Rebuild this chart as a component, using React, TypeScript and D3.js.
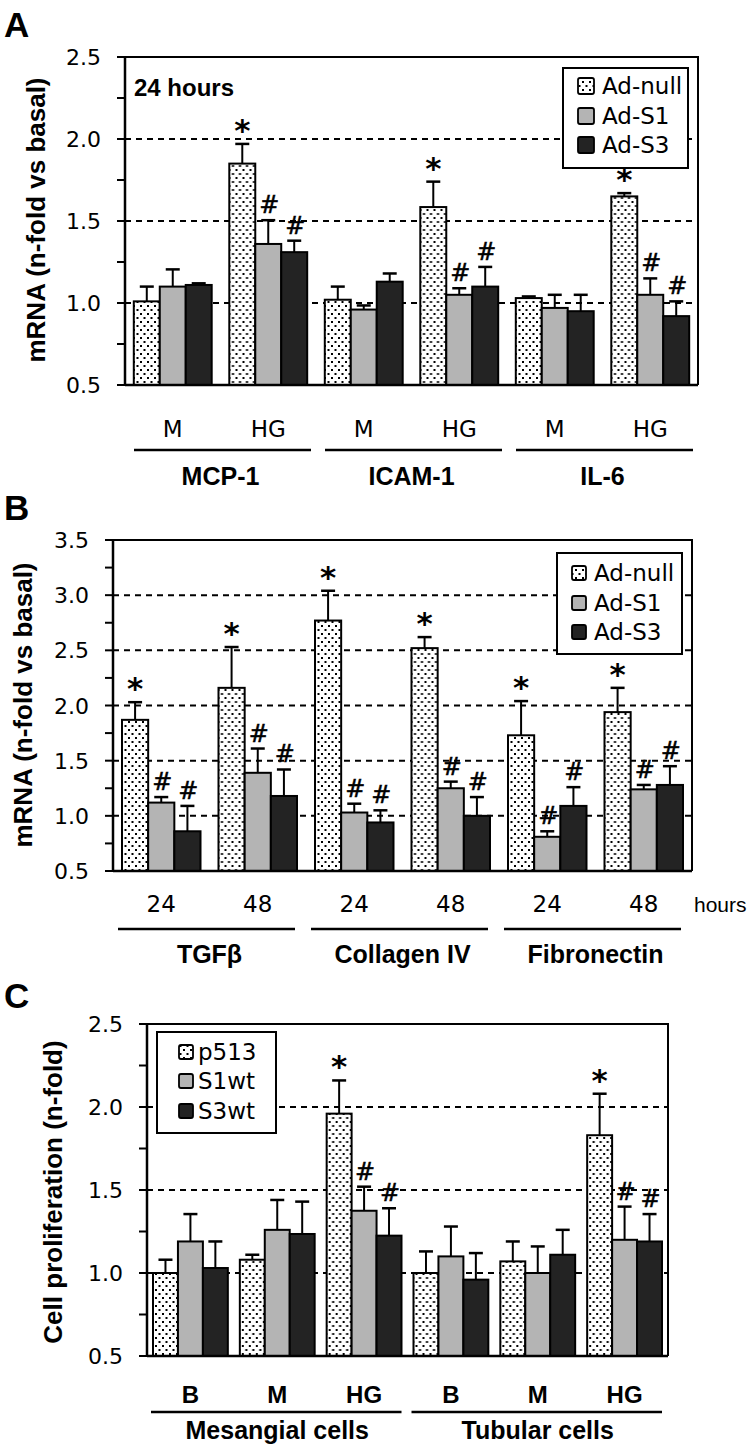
import React from "react";
import * as d3 from "d3";

// ---------- Panel A data ----------
const seriesA = ["Ad-null", "Ad-S1", "Ad-S3"];
const conditionsA = ["M", "HG", "M", "HG", "M", "HG"];
const genesA = ["MCP-1", "ICAM-1", "IL-6"];
const aNull = [1.01, 1.85, 1.02, 1.585, 1.03, 1.65];
const aNullErr = [0.09, 0.12, 0.08, 0.155, 0.01, 0.02];
const aS1 = [1.1, 1.36, 0.96, 1.05, 0.97, 1.05];
const aS1Err = [0.105, 0.145, 0.025, 0.04, 0.08, 0.1];
const aS3 = [1.11, 1.31, 1.13, 1.1, 0.95, 0.92];
const aS3Err = [0.01, 0.07, 0.05, 0.12, 0.1, 0.09];
const aNullSig = ["", "*", "", "*", "", "*"];
const aS1Sig = ["", "#", "", "#", "", "#"];
const aS3Sig = ["", "#", "", "#", "", "#"];
const yTicksA = [0.5, 1.0, 1.5, 2.0, 2.5];

// ---------- Panel B data ----------
const seriesB = ["Ad-null", "Ad-S1", "Ad-S3"];
const hoursB = ["24", "48", "24", "48", "24", "48"];
const markersB = ["TGFβ", "Collagen IV", "Fibronectin"];
const bNull = [1.87, 2.16, 2.77, 2.52, 1.73, 1.94];
const bNullErr = [0.16, 0.37, 0.27, 0.1, 0.31, 0.22];
const bS1 = [1.12, 1.39, 1.03, 1.25, 0.81, 1.24];
const bS1Err = [0.05, 0.22, 0.08, 0.06, 0.05, 0.04];
const bS3 = [0.86, 1.18, 0.94, 1.0, 1.09, 1.28];
const bS3Err = [0.23, 0.24, 0.11, 0.17, 0.17, 0.17];
const bNullSig = ["*", "*", "*", "*", "*", "*"];
const bS1Sig = ["#", "#", "#", "#", "#", "#"];
const bS3Sig = ["#", "#", "#", "#", "#", "#"];
const yTicksB = [0.5, 1.0, 1.5, 2.0, 2.5, 3.0, 3.5];

// ---------- Panel C data ----------
const seriesC = ["p513", "S1wt", "S3wt"];
const conditionsC = ["B", "M", "HG", "B", "M", "HG"];
const cellsC = ["Mesangial cells", "Tubular cells"];
const cNull = [1.0, 1.08, 1.96, 1.0, 1.07, 1.83];
const cNullErr = [0.08, 0.03, 0.2, 0.13, 0.12, 0.25];
const cS1 = [1.19, 1.26, 1.375, 1.1, 1.0, 1.2];
const cS1Err = [0.165, 0.18, 0.145, 0.18, 0.16, 0.2];
const cS3 = [1.03, 1.235, 1.225, 0.96, 1.11, 1.19];
const cS3Err = [0.16, 0.195, 0.165, 0.16, 0.15, 0.165];
const cNullSig = ["", "", "*", "", "", "*"];
const cS1Sig = ["", "", "#", "", "", "#"];
const cS3Sig = ["", "", "#", "", "", "#"];
const yTicksC = [0.5, 1.0, 1.5, 2.0, 2.5];

const FILLS = ["url(#dots)", "#b4b4b4", "#232323"];
const BOLD = "'Liberation Sans', Arial, sans-serif";
const REG = "'DejaVu Sans', sans-serif";
const ARIAL = "'Liberation Sans', Arial, sans-serif";

type PanelProps = {
  letter: string;
  letterY: number;
  left: number;
  right: number;
  top: number;
  bottom: number;
  yTicks: number[];
  yTitle: string;
  yTitleX: number;
  yTitleY: number;
  cats: string[];
  catBold: boolean;
  catY: number;
  supers: string[];
  lineY: number;
  lineInsetL: number;
  lineInsetR: number;
  superY: number;
  inset: number;
  values: number[][];
  errs: number[][];
  sigs: string[][];
  series: string[];
  legend: { x: number; y: number; w: number; h: number; sw: number; swX: number; textX: number; rows: number[] };
  extra?: React.ReactNode;
};

function Panel(p: PanelProps) {
  const yMin = p.yTicks[0];
  const yMax = p.yTicks[p.yTicks.length - 1];
  const y = d3.scaleLinear().domain([yMin, yMax]).range([p.bottom, p.top]);
  const x0 = d3.scaleBand<number>().domain(d3.range(p.cats.length)).range([p.left, p.right]);
  const x1 = d3
    .scaleBand<number>()
    .domain([0, 1, 2])
    .range([p.inset, x0.bandwidth() - p.inset]);
  const minor = d3.range(yMin, yMax + 1e-6, 0.25);
  const span = p.cats.length / p.supers.length;

  return (
    <g>
      <text x={4} y={p.letterY} fontFamily={BOLD} fontWeight="bold" fontSize={35}>
        {p.letter}
      </text>
      {/* gridlines */}
      {p.yTicks.slice(1, -1).map((t) => (
        <line
          key={"g" + t}
          x1={p.left}
          x2={p.right}
          y1={y(t)}
          y2={y(t)}
          stroke="#000"
          strokeWidth={2}
          strokeDasharray="6,5"
        />
      ))}
      {/* bars */}
      {p.cats.map((c, gi) => (
        <g key={"grp" + gi} transform={`translate(${x0(gi)},0)`}>
          {p.values.map((vals, si) => {
            const v = vals[gi];
            const e = p.errs[si][gi];
            const bx = x1(si)!;
            const bw = x1.bandwidth();
            const cx = bx + bw / 2;
            const yt = y(v);
            const ye = y(v + e);
            const sig = p.sigs[si][gi];
            return (
              <g key={"b" + si}>
                <line x1={cx} x2={cx} y1={yt} y2={ye} stroke="#000" strokeWidth={2} />
                <line x1={cx - 7} x2={cx + 7} y1={ye} y2={ye} stroke="#000" strokeWidth={2.5} />
                <rect
                  x={bx}
                  y={yt}
                  width={bw}
                  height={y(yMin) - yt}
                  fill={FILLS[si]}
                  stroke="#000"
                  strokeWidth={2}
                />
                {sig === "*" && (
                  <text x={cx} y={ye - 3} textAnchor="middle" fontFamily={REG} fontWeight="bold" fontSize={31}>
                    *
                  </text>
                )}
                {sig === "#" && (
                  <text
                    x={cx + 1}
                    y={ye - 7}
                    textAnchor="middle"
                    fontFamily={REG}
                    fontSize={24}
                    stroke="#000"
                    strokeWidth={0.5}
                  >
                    #
                  </text>
                )}
              </g>
            );
          })}
        </g>
      ))}
      {/* frame */}
      <path
        d={`M${p.left},${p.top}H${p.right}V${p.bottom}`}
        fill="none"
        stroke="#000"
        strokeWidth={2}
      />
      <line x1={p.left} x2={p.right} y1={p.bottom} y2={p.bottom} stroke="#000" strokeWidth={2.5} />
      <line x1={p.left} x2={p.left} y1={p.top} y2={p.bottom} stroke="#000" strokeWidth={2.5} />
      {minor.map((t) => (
        <line key={"t" + t} x1={p.left - 8} x2={p.left} y1={y(t)} y2={y(t)} stroke="#000" strokeWidth={2} />
      ))}
      {p.yTicks.map((t) => (
        <text
          key={"l" + t}
          x={p.left - 24}
          y={y(t) + 8}
          textAnchor="end"
          fontFamily={REG}
          fontSize={22}
        >
          {d3.format(".1f")(t)}
        </text>
      ))}
      <text
        transform={`translate(${p.yTitleX},${p.yTitleY}) rotate(-90)`}
        textAnchor="middle"
        fontFamily={BOLD}
        fontWeight="bold"
        fontSize={26}
      >
        {p.yTitle}
      </text>
      {/* category labels */}
      {p.cats.map((c, gi) => (
        <text
          key={"c" + gi}
          x={x0(gi)! + x0.bandwidth() / 2}
          y={p.catY}
          textAnchor="middle"
          fontFamily={p.catBold ? BOLD : REG}
          fontWeight={p.catBold ? "bold" : "normal"}
          fontSize={p.catBold ? 24 : 23}
        >
          {c}
        </text>
      ))}
      {p.supers.map((s, i) => {
        const a = x0(i * span)!;
        const b = x0((i + 1) * span - 1)! + x0.bandwidth();
        return (
          <g key={"s" + i}>
            <line
              x1={a + p.lineInsetL}
              x2={b - p.lineInsetR}
              y1={p.lineY}
              y2={p.lineY}
              stroke="#000"
              strokeWidth={2.5}
            />
            <text
              x={(a + b) / 2}
              y={p.superY}
              textAnchor="middle"
              fontFamily={BOLD}
              fontWeight="bold"
              fontSize={25}
            >
              {s}
            </text>
          </g>
        );
      })}
      {/* legend */}
      <rect
        x={p.legend.x}
        y={p.legend.y}
        width={p.legend.w}
        height={p.legend.h}
        fill="#fff"
        stroke="#000"
        strokeWidth={2}
      />
      {p.series.map((s, i) => (
        <g key={"lg" + i}>
          <rect
            x={p.legend.swX}
            y={p.legend.rows[i] - p.legend.sw / 2}
            width={p.legend.sw}
            height={p.legend.sw}
            rx={2}
            fill={FILLS[i]}
            stroke="#000"
            strokeWidth={1.8}
          />
          <text x={p.legend.textX} y={p.legend.rows[i] + 8} fontFamily={REG} fontSize={23}>
            {s}
          </text>
        </g>
      ))}
      {p.extra}
    </g>
  );
}

export default function App() {
  return (
    <svg
      width={750}
      height={1452}
      viewBox="0 0 750 1452"
      style={{ position: "absolute", left: 0, top: 0, background: "#fff" }}
    >
      <defs>
        <pattern id="dots" width={7} height={8} patternUnits="userSpaceOnUse">
          <rect width={7} height={8} fill="#fff" />
          <rect x={1} y={1} width={2} height={2} fill="#000" />
          <rect x={4.5} y={5} width={2} height={2} fill="#000" />
        </pattern>
      </defs>
      <rect width={750} height={1452} fill="#fff" />
      <Panel
        letter="A"
        letterY={37}
        left={125}
        right={698}
        top={57}
        bottom={385}
        yTicks={yTicksA}
        yTitle="mRNA (n-fold vs basal)"
        yTitleX={45}
        yTitleY={220}
        cats={conditionsA}
        catBold={false}
        catY={437}
        supers={genesA}
        lineY={450}
        lineInsetL={9}
        lineInsetR={5}
        superY={485}
        inset={8.8}
        values={[aNull, aS1, aS3]}
        errs={[aNullErr, aS1Err, aS3Err]}
        sigs={[aNullSig, aS1Sig, aS3Sig]}
        series={seriesA}
        legend={{ x: 563, y: 68, w: 125, h: 100, sw: 16, swX: 578, textX: 602, rows: [86, 116, 145] }}
        extra={
          <text x={134} y={96} fontFamily={BOLD} fontWeight="bold" fontSize={24}>
            24 hours
          </text>
        }
      />
      <Panel
        letter="B"
        letterY={520}
        left={113}
        right={692}
        top={540}
        bottom={871}
        yTicks={yTicksB}
        yTitle="mRNA (n-fold vs basal)"
        yTitleX={32}
        yTitleY={705}
        cats={hoursB}
        catBold={false}
        catY={912}
        supers={markersB}
        lineY={929}
        lineInsetL={5}
        lineInsetR={11}
        superY={963}
        inset={9}
        values={[bNull, bS1, bS3]}
        errs={[bNullErr, bS1Err, bS3Err]}
        sigs={[bNullSig, bS1Sig, bS3Sig]}
        series={seriesB}
        legend={{ x: 557, y: 553, w: 125, h: 101, sw: 14, swX: 572, textX: 594, rows: [573, 603, 632] }}
        extra={
          <text x={694} y={912} fontFamily={ARIAL} fontSize={21}>
            hours
          </text>
        }
      />
      <Panel
        letter="C"
        letterY={1008}
        left={147}
        right={668}
        top={1024}
        bottom={1356}
        yTicks={yTicksC}
        yTitle="Cell proliferation (n-fold)"
        yTitleX={62}
        yTitleY={1192}
        cats={conditionsC}
        catBold={true}
        catY={1403}
        supers={cellsC}
        lineY={1412}
        lineInsetL={4}
        lineInsetR={6}
        superY={1439}
        inset={6}
        values={[cNull, cS1, cS3]}
        errs={[cNullErr, cS1Err, cS3Err]}
        sigs={[cNullSig, cS1Sig, cS3Sig]}
        series={seriesC}
        legend={{ x: 157, y: 1032, w: 119, h: 101, sw: 14, swX: 179, textX: 198, rows: [1052, 1081, 1111] }}
      />
    </svg>
  );
}
